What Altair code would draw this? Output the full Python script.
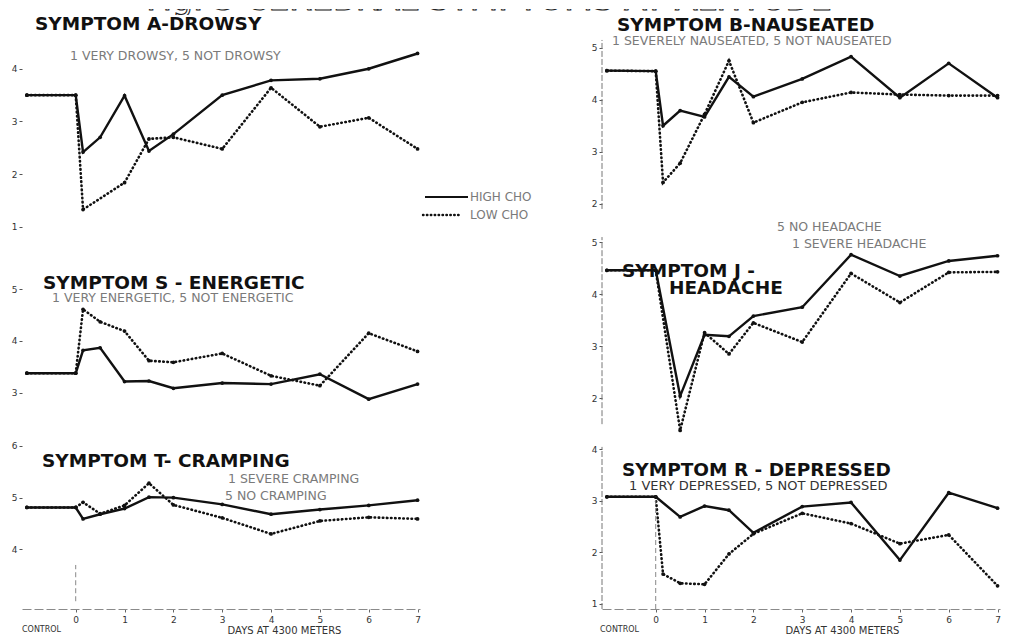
import altair as alt
import pandas as pd

# ---------------- data ----------------
DAYS = [-1, 0, 0.15, 0.5, 1, 1.5, 2, 3, 4, 5, 6, 7]   # -1 = control

HIGH_A = [3.50, 3.50, 2.42, 2.70, 3.49, 2.44, 2.76, 3.50, 3.78, 3.81, 4.00, 4.29]
LOW_A  = [3.50, 3.50, 1.33, None, 1.84, 2.67, 2.70, 2.48, 3.64, 2.90, 3.07, 2.48]

HIGH_S = [3.38, 3.38, 3.82, 3.87, 3.22, 3.23, 3.09, 3.19, 3.17, 3.36, 2.88, 3.17]
LOW_S  = [3.38, 3.38, 4.61, 4.37, 4.19, 3.62, 3.59, 3.76, 3.33, 3.14, 4.15, 3.80]

HIGH_T = [4.81, 4.81, 4.59, 4.68, 4.79, 5.01, 5.00, 4.87, 4.68, 4.77, 4.85, 4.95]
LOW_T  = [4.81, 4.81, 4.91, 4.69, 4.85, 5.28, 4.86, 4.61, 4.30, 4.55, 4.62, 4.59]

HIGH_B = [4.56, 4.55, 3.50, 3.79, 3.67, 4.44, 4.06, 4.40, 4.83, 4.04, 4.70, 4.04]
LOW_B  = [4.56, 4.55, 2.41, 2.78, 3.72, 4.75, 3.56, 3.95, 4.14, 4.10, 4.08, 4.08]

HIGH_J = [4.46, 4.46, None, 2.04, 3.22, 3.19, 3.58, 3.75, 4.76, 4.35, 4.64, 4.74]
LOW_J  = [4.46, 4.46, None, 1.38, 3.26, 2.85, 3.45, 3.08, 4.40, 3.84, 4.42, 4.43]

HIGH_R = [3.08, 3.08, None, 2.69, 2.90, 2.82, 2.38, 2.89, 2.97, 1.85, 3.16, 2.86]
LOW_R  = [3.08, 3.08, 1.58, 1.40, 1.38, 1.97, 2.36, 2.76, 2.56, 2.17, 2.34, 1.35]

SERIES = ["HIGH CHO", "LOW CHO"]
DAY_TICKS = [0, 1, 2, 3, 4, 5, 6, 7]
MAIN_TITLE = ["Fig. 3   CEREBRAL  SYMPTOMS  AT  ALTITUDE"]
TITLES = {
    "A": ["SYMPTOM A-DROWSY"],
    "S": ["SYMPTOM S - ENERGETIC"],
    "T": ["SYMPTOM T- CRAMPING"],
    "B": ["SYMPTOM B-NAUSEATED"],
    "J": ["SYMPTOM J -", "HEADACHE"],
    "R": ["SYMPTOM R - DEPRESSED"],
}
NOTES = {
    "A": ["1 VERY DROWSY, 5 NOT DROWSY"],
    "S": ["1 VERY ENERGETIC, 5 NOT ENERGETIC"],
    "T": ["1 SEVERE CRAMPING", "5 NO CRAMPING"],
    "B": ["1 SEVERELY NAUSEATED, 5 NOT NAUSEATED"],
    "J": ["5 NO HEADACHE", "1 SEVERE HEADACHE"],
    "R": ["1 VERY DEPRESSED, 5 NOT DEPRESSED"],
}
X_LABELS = ["CONTROL", "DAYS AT 4300 METERS"]

# ---------------- styling ----------------
FONT = "DejaVu Sans"
INK = "#111111"
GREY = "#7a7a7a"
XDOM = [-1.1, 7.05]
W = 398


def series_df(vals):
    df = pd.DataFrame({"day": DAYS, "value": vals})
    return df.dropna()


def text_layer(txt, px, py, size, weight="normal", color=INK):
    return alt.Chart(pd.DataFrame({"label": [txt]})).mark_text(
        align="left", baseline="middle", fontSize=size, fontWeight=weight,
        color=color, font=FONT
    ).encode(x=alt.value(px), y=alt.value(py), text="label:N")


def panel(high, low, ydom, yvals, height, texts, bottom=False, right=False,
          axis_line=None, zero_line=None, extra=None):
    if bottom:
        xaxis = alt.Axis(values=DAY_TICKS, format="d", grid=False, domain=True,
                         domainColor="#8a8a8a", domainDash=[9, 3], domainWidth=1,
                         tickSize=3, tickColor="#666", labelFontSize=9,
                         labelColor="#333", labelPadding=3, labelFont=FONT,
                         title=X_LABELS[1], titleFontSize=10, titleFontWeight="normal",
                         titleColor="#333", titleFont=FONT,
                         titleX=262 if not right else 240, titleY=16)
    else:
        xaxis = None
    x_enc = alt.X("day:Q", scale=alt.Scale(domain=XDOM, nice=False, zero=False),
                  axis=xaxis)
    y_enc = alt.Y("value:Q", scale=alt.Scale(domain=ydom, nice=False, zero=False),
                  axis=alt.Axis(values=yvals, format="d", grid=False, domain=False,
                                tickSize=3, tickColor="#555", labelFontSize=9,
                                labelColor="#333", labelPadding=2, title=None,
                                labelFont=FONT))
    layers = []
    hi = alt.Chart(series_df(high)).mark_line(color=INK, strokeWidth=2.4).encode(x=x_enc, y=y_enc)
    lo = alt.Chart(series_df(low)).mark_line(color=INK, strokeWidth=2.6, strokeDash=[0.5, 3.6],
                                             strokeCap="round").encode(x=x_enc, y=y_enc)
    hip = alt.Chart(series_df(high)).mark_circle(color=INK, size=14, opacity=1).encode(x=x_enc, y=y_enc)
    lop = alt.Chart(series_df(low)).mark_circle(color=INK, size=14, opacity=1).encode(x=x_enc, y=y_enc)
    layers += [hi, lo, hip, lop]
    if axis_line is not None:
        layers.append(alt.Chart(pd.DataFrame({"value": [axis_line[0]], "value2": [axis_line[1]]}))
                      .mark_rule(color="#777", strokeWidth=1, strokeDash=[6, 2])
                      .encode(x=alt.value(0), y=y_enc, y2="value2:Q"))
    if zero_line is not None:
        layers.append(alt.Chart(pd.DataFrame({"day": [0], "value": [zero_line[0]],
                                              "value2": [zero_line[1]]}))
                      .mark_rule(color="#888", strokeWidth=1, strokeDash=[5, 3])
                      .encode(x=x_enc, y=y_enc, y2="value2:Q"))
    layers += texts
    if bottom:
        layers.append(text_layer(X_LABELS[0], -2 if right else 0, height + 21, 8, color="#333"))
    if extra:
        layers += extra
    return alt.layer(*layers).properties(width=W, height=height)


# legend (drawn inside panel A, to the right of its plot)
legend = [
    alt.Chart(pd.DataFrame({"s": [SERIES[0]]})).mark_rule(color=INK, strokeWidth=2.2)
    .encode(x=alt.value(403), x2=alt.value(446), y=alt.value(182)),
    alt.Chart(pd.DataFrame({"s": [SERIES[1]]})).mark_rule(color=INK, strokeWidth=2.4,
                                                         strokeDash=[0.5, 3.4], strokeCap="round")
    .encode(x=alt.value(401), x2=alt.value(440), y=alt.value(200)),
    text_layer(SERIES[0], 448, 182, 12, color=GREY),
    text_layer(SERIES[1], 448, 200, 12, color=GREY),
]

TS = 18.5
NS = 12.5

pA = panel(HIGH_A, LOW_A, [0.60, 5.02], [1, 2, 3, 4], 233,
           [text_layer(TITLES["A"][0], 13, 9, TS, "bold"),
            text_layer(NOTES["A"][0], 48, 41, NS, color=GREY)], extra=legend)
pS = panel(HIGH_S, LOW_S, [2.46, 5.79], [3, 4, 5], 173,
           [text_layer(TITLES["S"][0], 21, 35, TS, "bold"),
            text_layer(NOTES["S"][0], 30, 50, NS, color=GREY)])
pT = panel(HIGH_T, LOW_T, [2.85, 6.48], [4, 5, 6], 188,
           [text_layer(TITLES["T"][0], 20, 40, TS, "bold"),
            text_layer(NOTES["T"][0], 206, 58, NS, color=GREY),
            text_layer(NOTES["T"][1], 203, 75, NS, color=GREY)],
           bottom=True, zero_line=[3.0, 3.7])

pB = panel(HIGH_B, LOW_B, [1.63, 5.63], [2, 3, 4, 5], 208,
           [text_layer(TITLES["B"][0], 15, 10, TS, "bold"),
            text_layer(NOTES["B"][0], 10, 26, NS, color=GREY)],
           right=True, axis_line=[1.9, 5.15])
pJ = panel(HIGH_J, LOW_J, [1.33, 5.37], [2, 3, 4, 5], 210,
           [text_layer(TITLES["J"][0], 20, 48, TS, "bold"),
            text_layer(TITLES["J"][1], 67, 65, TS, "bold"),
            text_layer(NOTES["J"][0], 175, 4, NS, color=GREY),
            text_layer(NOTES["J"][1], 190, 21, NS, color=GREY)],
           right=True, axis_line=[1.5, 5.1])
pR = panel(HIGH_R, LOW_R, [0.90, 4.32], [1, 2, 3, 4], 176,
           [text_layer(TITLES["R"][0], 20, 37, TS, "bold"),
            text_layer(NOTES["R"][0], 27, 53, 13, color="#333")],
           bottom=True, right=True, axis_line=[0.9, 4.05], zero_line=[0.9, 3.08])

title_row = alt.Chart(pd.DataFrame({"label": MAIN_TITLE})).mark_text(
    align="center", baseline="alphabetic", fontSize=33, font=FONT,
    fill="white", stroke="#222", strokeWidth=1.1, clip=True
).encode(x=alt.value(467), y=alt.value(1), text="label:N").properties(width=976, height=6)

left = alt.vconcat(pA, pS, pT, spacing=0, bounds="flush")
right = alt.vconcat(pB, pJ, pR, spacing=0, bounds="flush")
body = alt.hconcat(left, right, spacing=580, bounds="flush")

chart = alt.vconcat(title_row, body, spacing=0, bounds="flush").properties(
    padding={"left": 2, "top": 0, "right": 0, "bottom": 0}
).configure(font=FONT).configure_view(stroke="transparent")

chart.save("out.html", embed_options={"renderer": "svg", "actions": False})
